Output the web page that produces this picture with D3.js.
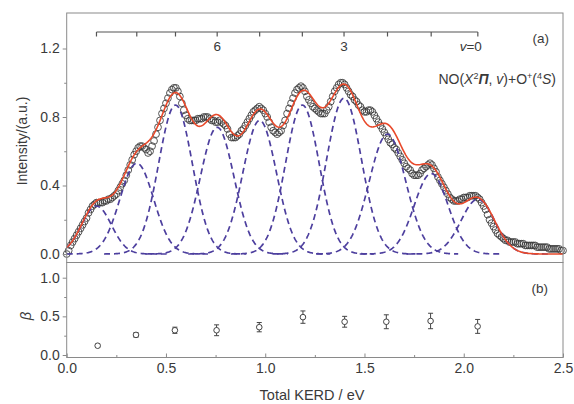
<!DOCTYPE html>
<html><head><meta charset="utf-8">
<script src="https://cdn.jsdelivr.net/npm/d3@7"></script>
<style>body{margin:0;background:#fff} text{font-family:"Liberation Sans",Arial,sans-serif}</style>
</head><body><svg id="c" width="574" height="404"></svg>
<script>
// ---- data ----
const kerdStep = 0.01; // eV spacing of measured points
const intensity = [
  0.00,0.02,0.05,0.07,0.09,0.11,0.13,0.15,0.17,0.19,
  0.21,0.24,0.26,0.28,0.29,0.30,0.30,0.30,0.30,0.31,
  0.31,0.32,0.32,0.33,0.34,0.35,0.37,0.39,0.41,0.43,
  0.46,0.49,0.52,0.55,0.58,0.60,0.62,0.63,0.63,0.62,
  0.61,0.59,0.60,0.63,0.66,0.70,0.74,0.78,0.82,0.85,
  0.88,0.91,0.94,0.96,0.97,0.97,0.95,0.92,0.88,0.84,
  0.81,0.79,0.78,0.78,0.78,0.78,0.79,0.79,0.79,0.80,
  0.80,0.80,0.79,0.78,0.78,0.77,0.77,0.78,0.77,0.76,
  0.75,0.73,0.70,0.68,0.68,0.68,0.69,0.70,0.72,0.73,
  0.75,0.77,0.79,0.81,0.83,0.84,0.85,0.86,0.85,0.84,
  0.82,0.80,0.77,0.74,0.72,0.71,0.70,0.71,0.72,0.75,
  0.78,0.82,0.85,0.88,0.91,0.94,0.96,0.97,0.98,0.97,
  0.95,0.92,0.90,0.88,0.86,0.85,0.84,0.83,0.82,0.82,
  0.82,0.84,0.86,0.89,0.92,0.95,0.97,0.99,1.00,1.00,
  0.99,0.97,0.95,0.93,0.92,0.90,0.89,0.87,0.86,0.84,
  0.83,0.83,0.84,0.84,0.83,0.81,0.79,0.77,0.75,0.73,
  0.71,0.69,0.67,0.65,0.64,0.62,0.61,0.59,0.57,0.55,
  0.53,0.51,0.50,0.49,0.47,0.46,0.46,0.46,0.47,0.49,
  0.50,0.51,0.52,0.53,0.52,0.50,0.48,0.45,0.43,0.41,
  0.39,0.37,0.35,0.33,0.32,0.31,0.31,0.31,0.32,0.32,
  0.33,0.33,0.33,0.34,0.34,0.34,0.34,0.33,0.32,0.30,
  0.28,0.26,0.23,0.20,0.18,0.16,0.14,0.12,0.11,0.10,
  0.09,0.08,0.08,0.07,0.07,0.07,0.07,0.06,0.06,0.06,
  0.06,0.05,0.05,0.05,0.05,0.05,0.05,0.04,0.04,0.04,
  0.04,0.04,0.04,0.03,0.03,0.03,0.03,0.03,0.03,0.02,
  0.02];
const vibLevels = [9,8,7,6,5,4,3,2,1,0];
const peakCenters = [0.150,0.353,0.548,0.758,0.972,1.187,1.397,1.616,1.836,2.071];
const peakAmps    = [0.28,0.53,0.87,0.74,0.78,0.87,0.91,0.70,0.47,0.32];
const peakSigmas  = [0.075,0.085,0.085,0.085,0.085,0.085,0.088,0.092,0.085,0.085];
const combLabels = {6:"6",3:"3"};
const betaX   = [0.156,0.349,0.545,0.755,0.970,1.190,1.400,1.610,1.833,2.070];
const betaVal = [0.12,0.26,0.32,0.32,0.36,0.49,0.43,0.43,0.44,0.37];
const betaErr = [0.02,0.03,0.04,0.07,0.06,0.08,0.07,0.09,0.10,0.09];
const yTopTicks = [0,0.4,0.8,1.2], yTopMinor=[0.2,0.6,1.0];
const yBotTicks = [0,0.5,1.0], yBotMinor=[0.25,0.75];
const xTicks = [0,0.5,1,1.5,2,2.5], xMinor=[0.25,0.75,1.25,1.75,2.25];

// ---- layout ----
const svg = d3.select("#c");
const L=66.7, R=563, T=13, MID=262.5, B=357.5;
const x = d3.scaleLinear([0,2.5],[L,R]);
const yT = d3.scaleLinear([0,1.2],[254,48.5]);
const yB = d3.scaleLinear([0,1],[355,277.7]);
const axisCol="#8a8a8a", txtCol="#3a3a3a";

const gauss = (i,v)=>peakAmps[i]*Math.exp(-((v-peakCenters[i])**2)/(2*peakSigmas[i]**2));

// data circles
const pts = intensity.map((v,i)=>({x:i*kerdStep,y:v}));
svg.append("g").selectAll("circle").data(pts).join("circle")
  .attr("cx",d=>x(d.x)).attr("cy",d=>yT(d.y)).attr("r",3.4)
  .attr("fill","none").attr("stroke","#383838").attr("stroke-width",0.85);

// gaussian components
const line = d3.line().x(d=>x(d[0])).y(d=>yT(d[1]));
peakCenters.forEach((c,i)=>{
  const xs = d3.range(Math.max(0,c-0.36), Math.min(2.5,c+0.36), 0.004);
  svg.append("path").attr("d", line(xs.map(v=>[v,gauss(i,v)])))
    .attr("fill","none").attr("stroke","#4d3f9e").attr("stroke-width",1.7)
    .attr("stroke-dasharray","6,4");
});
// fit (sum)
const fx = d3.range(0,2.5001,0.004);
svg.append("path").attr("d", line(fx.map(v=>[v,d3.sum(peakCenters,(c,i)=>gauss(i,v))])))
  .attr("fill","none").attr("stroke","#e8492b").attr("stroke-width",1.6);

// beta panel
const bg = svg.append("g");
betaX.forEach((bx,i)=>{
  const cx=x(bx);
  bg.append("line").attr("x1",cx).attr("x2",cx).attr("y1",yB(betaVal[i]-betaErr[i])).attr("y2",yB(betaVal[i]+betaErr[i])).attr("stroke","#444");
  [-1,1].forEach(s=>bg.append("line").attr("x1",cx-2.5).attr("x2",cx+2.5)
     .attr("y1",yB(betaVal[i]+s*betaErr[i])).attr("y2",yB(betaVal[i]+s*betaErr[i])).attr("stroke","#444"));
  bg.append("circle").attr("cx",cx).attr("cy",yB(betaVal[i])).attr("r",2.8)
    .attr("fill","#fff").attr("stroke","#444").attr("stroke-width",1);
});

// frames
svg.append("rect").attr("x",L).attr("y",T).attr("width",R-L).attr("height",MID-T).attr("fill","none").attr("stroke",axisCol);
svg.append("rect").attr("x",L).attr("y",MID).attr("width",R-L).attr("height",B-MID).attr("fill","none").attr("stroke",axisCol);

function yAxis(scale, major, minor, fmt){
  const g = svg.append("g").attr("transform",`translate(${L},0)`);
  g.call(d3.axisLeft(scale).tickValues(major).tickSize(4).tickPadding(3).tickFormat(fmt));
  g.append("g").call(d3.axisLeft(scale).tickValues(minor).tickSize(2.5).tickFormat(""));
  g.selectAll(".domain").remove();
  g.selectAll("line").attr("stroke",axisCol);
  g.selectAll("text").attr("fill",txtCol).attr("font-size",14).attr("font-family","Liberation Sans, Arial, sans-serif");
}
yAxis(yT, yTopTicks, yTopMinor, d3.format(".1f"));
yAxis(yB, yBotTicks, yBotMinor, d3.format(".1f"));

const gx = svg.append("g").attr("transform",`translate(0,${B})`);
gx.call(d3.axisBottom(x).tickValues(xTicks).tickSizeInner(-4).tickSizeOuter(0).tickPadding(5.5).tickFormat(d3.format(".1f")));
gx.append("g").call(d3.axisBottom(x).tickValues(xMinor).tickSizeInner(-2.5).tickSizeOuter(0).tickFormat(""));
gx.selectAll(".domain").remove();
gx.selectAll("line").attr("stroke",axisCol);
gx.selectAll("text").attr("fill",txtCol).attr("font-size",14).attr("font-family","Liberation Sans, Arial, sans-serif");

// vibrational comb
const combY = 32;
const cg = svg.append("g");
cg.append("line").attr("x1",x(d3.min(peakCenters))).attr("x2",x(d3.max(peakCenters)))
  .attr("y1",combY).attr("y2",combY).attr("stroke","#555").attr("stroke-width",1.2);
peakCenters.forEach((c,i)=>{
  cg.append("line").attr("x1",x(c)).attr("x2",x(c)).attr("y1",combY).attr("y2",combY+4.5).attr("stroke","#555").attr("stroke-width",1.2);
  const lv = vibLevels[i];
  if (combLabels[lv]) cg.append("text").attr("x",x(c)).attr("y",51).attr("text-anchor","middle")
      .attr("font-size",13.5).attr("fill",txtCol).text(combLabels[lv]);
  if (lv===0){
    const t=cg.append("text").attr("x",x(c)+4).attr("y",51).attr("text-anchor","end").attr("font-size",13.5).attr("fill",txtCol);
    t.append("tspan").attr("font-style","italic").text("v");
    t.append("tspan").text("=0");
  }
});

// labels
svg.append("text").attr("x",549).attr("y",43).attr("text-anchor","end").attr("font-size",13.5).attr("fill",txtCol).text("(a)");
svg.append("text").attr("x",548).attr("y",293).attr("text-anchor","end").attr("font-size",13.5).attr("fill",txtCol).text("(b)");

const leg = svg.append("text").attr("x",556).attr("y",84).attr("text-anchor","end").attr("font-size",14).attr("fill",txtCol);
const parts=[["NO(",""],["X","i"],["2","s"],["Π","i"],[", ",""],["v","i"],[")+O",""],["+","s"],["(",""],["4","s"],["S","i"],[")",""]];
let prevSup=false;
parts.forEach(([t,k])=>{
  const sp=leg.append("tspan").text(t);
  let dy=0;
  if(k==="s"){dy=-5; sp.attr("font-size",9);} 
  if(prevSup && k!=="s") dy+=5;
  if(dy) sp.attr("dy",dy);
  if(k==="i") sp.attr("font-style","italic");
  if(t==="Π") sp.attr("font-weight","bold");
  prevSup = (k==="s");
});

svg.append("text").attr("transform","translate(27,141) rotate(-90)").attr("text-anchor","middle")
  .attr("font-size",14).attr("fill",txtCol).text("Intensity/(a.u.)");
svg.append("text").attr("transform","translate(31,316) rotate(-90)").attr("text-anchor","middle")
  .attr("font-size",15).attr("font-style","italic").attr("fill",txtCol).text("β");
svg.append("text").attr("x",312).attr("y",400).attr("text-anchor","middle")
  .attr("font-size",14.5).attr("fill",txtCol).text("Total KERD / eV");
</script></body></html>
